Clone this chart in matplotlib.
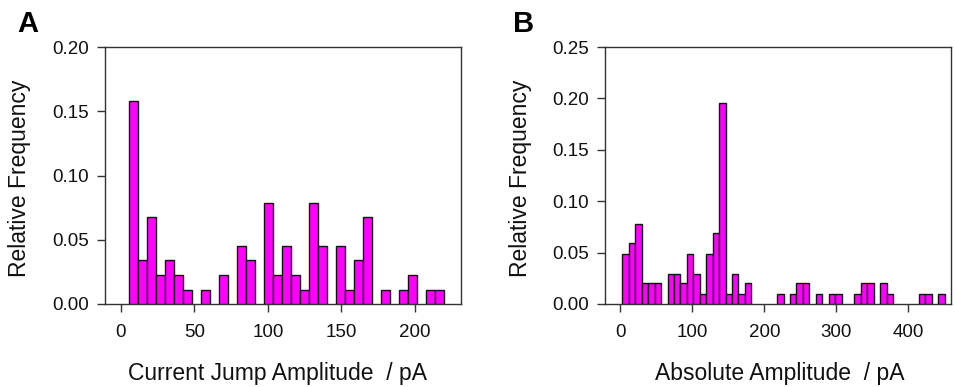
import numpy as np
import matplotlib
matplotlib.use("Agg")
import matplotlib.pyplot as plt

plt.rcParams['font.family'] = ['Liberation Sans', 'DejaVu Sans']

# ---------------- data ----------------
# Panel A: current jump amplitude histogram (35 bins, 5.4 .. 219.7 pA)
a_range = (5.4, 219.7)
freq_a = [0.158, 0.034, 0.0675, 0.0225, 0.034, 0.0225, 0.0112, 0.0, 0.0112, 0.0,
          0.0225, 0.0, 0.045, 0.034, 0.0, 0.0787, 0.0225, 0.045, 0.0225, 0.0112,
          0.0787, 0.045, 0.0, 0.045, 0.0112, 0.034, 0.0674, 0.0, 0.0112, 0.0,
          0.0112, 0.0225, 0.0, 0.0112, 0.0112]
xticks_a = [0, 50, 100, 150, 200]
yticks_a = [0.00, 0.05, 0.10, 0.15, 0.20]

# Panel B: absolute amplitude histogram (50 bins, 3 .. 450.5 pA)
b_range = (3.0, 450.5)
freq_b = [0.049, 0.059, 0.078, 0.020, 0.020, 0.020, 0.0, 0.029, 0.029, 0.020,
          0.049, 0.029, 0.010, 0.049, 0.069, 0.196, 0.010, 0.029, 0.010, 0.020,
          0.0, 0.0, 0.0, 0.0, 0.010, 0.0, 0.010, 0.020, 0.020, 0.0,
          0.010, 0.0, 0.010, 0.010, 0.0, 0.0, 0.010, 0.020, 0.020, 0.0,
          0.020, 0.010, 0.0, 0.0, 0.0, 0.0, 0.010, 0.010, 0.0, 0.010]
xticks_b = [0, 100, 200, 300, 400]
yticks_b = [0.00, 0.05, 0.10, 0.15, 0.20, 0.25]

xlabel_a = "Current Jump Amplitude  / pA"
xlabel_b = "Absolute Amplitude  / pA"
ylabel = "Relative Frequency"

# ---------------- figure ----------------
W, H = 955, 387
fig = plt.figure(figsize=(W / 100, H / 100), dpi=100)

def px_axes(l, r, t, b):
    return fig.add_axes([l / W, 1 - b / H, (r - l) / W, (b - t) / H])

axA = px_axes(105, 461, 47, 304)
axB = px_axes(605, 951, 47, 304)

spine_col = '#333333'

def draw(ax, freq, rng, xticks, yticks, xlim, ylim, xlabel, ylab_x, xlab_x):
    edges = np.linspace(rng[0], rng[1], len(freq) + 1)
    widths = np.diff(edges)
    heights = np.array(freq)
    mask = heights > 0
    ax.bar(edges[:-1][mask], heights[mask], width=widths[mask], align='edge',
           color='#FF00FF', edgecolor='#111111', linewidth=1.0, zorder=3)
    ax.set_xlim(*xlim)
    ax.set_ylim(*ylim)
    ax.set_xticks(xticks)
    ax.set_yticks(yticks)
    ax.set_yticklabels([f"{v:.2f}" for v in yticks])
    for s in ax.spines.values():
        s.set_color(spine_col)
        s.set_linewidth(1.0)
    ax.tick_params(axis='both', direction='out', length=5.5, width=1.0,
                   color=spine_col, labelsize=13.5, labelcolor='#111111')
    ax.tick_params(axis='x', pad=9)
    ax.tick_params(axis='y', pad=6)
    ax.set_xlabel(xlabel, fontsize=16.5, color='#111111')
    ax.set_ylabel(ylabel, fontsize=16.5, color='#111111')
    ax.xaxis.set_label_coords(xlab_x, -0.225)
    ax.yaxis.set_label_coords(ylab_x, 0.49)

draw(axA, freq_a, a_range, xticks_a, yticks_a, (-10.6, 231.2), (0, 0.20), xlabel_a, -0.208, 0.484)
draw(axB, freq_b, b_range, xticks_b, yticks_b, (-21.2, 459.3), (0, 0.25), xlabel_b, -0.212, 0.505)

fig.text(17 / W, 1 - 32 / H, "A", fontsize=21, fontweight='bold', va='baseline', ha='left')
fig.text(513 / W, 1 - 32 / H, "B", fontsize=21, fontweight='bold', va='baseline', ha='left')

fig.savefig("out.png", dpi=100)
